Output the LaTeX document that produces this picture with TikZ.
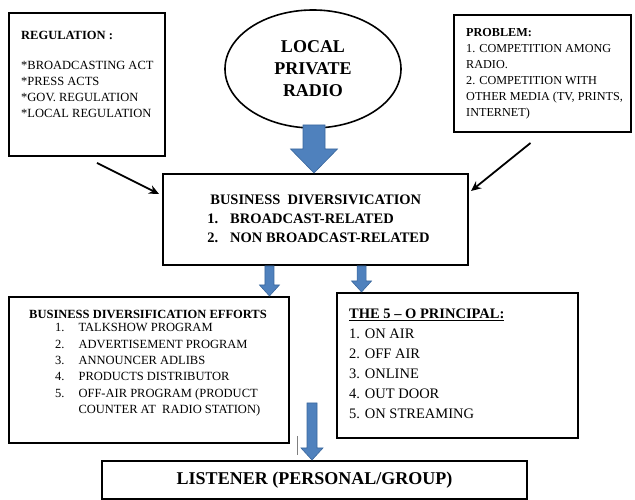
\documentclass[tikz,border=0pt]{standalone}
\usepackage{fontspec}
\setmainfont{Liberation Serif}
\usetikzlibrary{shapes.geometric,calc,arrows.meta}

\definecolor{arrowfill}{HTML}{4F81BD}
\definecolor{arrowline}{HTML}{3A679C}

\tikzset{
  box/.style={draw, line width=2pt, rectangle, inner sep=0pt},
  boxtext/.style={anchor=north west, inner sep=0pt, align=left},
  fat/.style={fill=arrowfill, draw=arrowline, line width=0.6pt},
  push/.style={line width=1.8pt, -{Stealth[length=10pt,width=9pt]}}
}

% fat blue arrow: start, end, half shaft, half head, head length
\newcommand{\fatarrow}[5]{%
  \filldraw[fat] let \p1=(#1), \p2=(#2) in
    (\x1-#3,\y1) -- (\x1+#3,\y1) -- (\x1+#3,\y2+#5) -- (\x1+#4,\y2+#5)
    -- (\x1,\y2) -- (\x1-#4,\y2+#5) -- (\x1-#3,\y2+#5) -- cycle;}

\begin{document}
\begin{tikzpicture}[x=1pt, y=1pt]
  \useasboundingbox (0,0) rectangle (635,500);

  % top row
  \node[box, minimum width=156pt, minimum height=143pt] (regulation) at (87,415.5) {};
  \node[boxtext, font=\fontsize{12.5}{16}\selectfont] (regtext) at (21,469)
    {\textbf{REGULATION :}\\[14pt]
     *BROADCASTING ACT\\ *PRESS ACTS\\ *GOV. REGULATION\\ *LOCAL REGULATION};

  \node[draw, ellipse, line width=1.6pt, minimum width=176pt, minimum height=118pt,
        align=center, font=\fontsize{18}{22}\selectfont\bfseries] (radio) at (313,431)
    {LOCAL\\ PRIVATE\\ RADIO};

  \node[box, minimum width=177pt, minimum height=117pt] (problem) at (542.5,426.5) {};
  \node[boxtext, font=\fontsize{12.2}{16}\selectfont] (probtext) at (466,471.5)
    {\textbf{PROBLEM:}\\ 1. COMPETITION AMONG\\ RADIO.\\ 2. COMPETITION WITH\\
     OTHER MEDIA (TV, PRINTS,\\ INTERNET)};

  % middle
  \node[box, minimum width=305pt, minimum height=91pt,
        font=\fontsize{14.5}{20}\selectfont\bfseries] (business) at (315.5,280.5)
    {\hspace{6pt}\begin{tabular}{@{}l@{\hspace{12pt}}l@{}}
       \multicolumn{2}{@{}l@{}}{\hspace{3pt}BUSINESS\ \ DIVERSIVICATION}\\[-1pt]
       1. & BROADCAST-RELATED\\[-1pt]
       2. & NON BROADCAST-RELATED
     \end{tabular}};

  % lower row
  \node[box, minimum width=280pt, minimum height=146pt] (efforts) at (149,130) {};
  \node[boxtext, font=\fontsize{12.5}{16}\selectfont] (efftext) at (29,190)
    {\textbf{BUSINESS DIVERSIFICATION EFFORTS}\\[1pt]
     \begin{tabular}{@{\hspace{26pt}}l@{\hspace{14pt}}l@{}}
       1. & TALKSHOW PROGRAM\\[0.3pt]
       2. & ADVERTISEMENT PROGRAM\\[0.3pt]
       3. & ANNOUNCER ADLIBS\\[0.3pt]
       4. & PRODUCTS DISTRIBUTOR\\[0.3pt]
       5. & OFF-AIR PROGRAM (PRODUCT\\[0.3pt]
          & COUNTER AT\ \ RADIO STATION)
     \end{tabular}};

  \node[box, minimum width=241pt, minimum height=145pt] (principal) at (457.5,134.5) {};
  \node[boxtext, font=\fontsize{14.5}{20}\selectfont] (printext) at (349,191)
    {\textbf{\underline{THE 5 – O PRINCIPAL:}}\\ 1. ON AIR\\ 2. OFF AIR\\ 3. ONLINE\\
     4. OUT DOOR\\ 5. ON STREAMING};

  \node[box, minimum width=425pt, minimum height=38pt,
        font=\fontsize{18}{20}\selectfont\bfseries] (listener) at (314.5,20)
    {LISTENER (PERSONAL/GROUP)};

  % blue arrows
  \coordinate (radioout) at (314,375);
  \coordinate (leftout) at ($(business.south west)!0.35!(business.south east)$);
  \coordinate (rightout) at ($(business.south west)!0.65!(business.south east)$);
  \coordinate (listenin) at (312,97);
  \fatarrow{radioout}{radioout |- business.north}{11pt}{23.5pt}{24pt}
  \fatarrow{leftout}{leftout |- efforts.north}{4.5pt}{10pt}{11pt}
  \fatarrow{rightout}{rightout |- principal.north}{4.5pt}{10pt}{11pt}
  \fatarrow{listenin}{listenin |- listener.north}{5pt}{11pt}{12pt}

  % black arrows
  \coordinate (regout) at ($(regulation.south)+(10,-6)$);
  \coordinate (probout) at ($(problem.south)+(-12,-10)$);
  \draw[push] (regout) -- ($(business.north west)+(-3,-21)$);
  \draw[push] (probout) -- ($(business.north east)+(2,-18)$);

  % stray mark
  \draw[line width=0.5pt, gray] (297,64) -- (297,45);
\end{tikzpicture}
\end{document}
